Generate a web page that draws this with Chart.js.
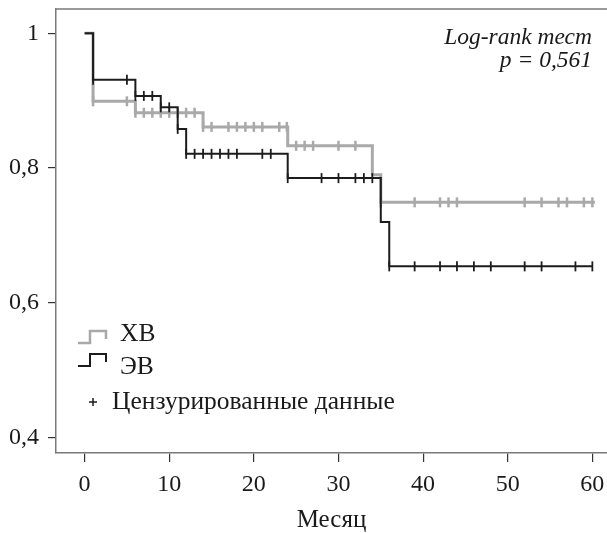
<!DOCTYPE html>
<html>
<head>
<meta charset="utf-8">
<script src="https://cdn.jsdelivr.net/npm/chart.js@4/dist/chart.umd.min.js"></script>
<style>
  html, body { margin: 0; padding: 0; background: #fff; }
  #wrap { width: 607px; height: 533px; }
</style>
</head>
<body>
<div id="wrap"><canvas id="grafico" width="607" height="533"></canvas></div>
<script>
// Dados (leitura da figura)
const xTicks = [0, 10, 20, 30, 40, 50, 60];
const yTicks = [0.4, 0.6, 0.8, 1];

// ЭВ (preto)
const evTempos = [0, 1, 6, 9, 11, 12, 24, 35, 36];
const evSobrev = [1, 0.931, 0.907, 0.890, 0.858, 0.821, 0.785, 0.720, 0.654];
const evFim = 60;
const evCensura = [1, 5, 6, 7, 8, 9, 10, 11, 12, 13, 14, 15, 16, 17, 18, 21, 22, 24, 28, 30, 32, 33, 34, 36, 39, 42, 44, 46, 48, 52, 54, 58, 60];

// ХВ (cinza)
const xvTempos = [0, 1, 6, 14, 24, 34, 35];
const xvSobrev = [1, 0.899, 0.882, 0.861, 0.833, 0.790, 0.749];
const xvFim = 60.3;
const xvCensura = [1, 5, 6, 7, 8, 9, 10, 11, 12, 13, 14, 15, 17, 18, 19, 20, 21, 23, 23.9, 25, 26, 27, 30, 32, 35, 39, 42, 43, 44, 52, 54, 56, 57, 59, 60];

const legendaTextos = ['ХВ', 'ЭВ', 'Цензурированные данные'];
const anotacao = ['Log-rank тест', 'p = 0,561'];

const corPreto = '#1c1c1c';
const corCinza = '#a9a9a9';
const corEixo = '#7a7a7a';
const fonte = '"Liberation Serif", "Times New Roman", Times, serif';

// Funções
function degraus(tempos, sobrev, fim){
    const pts = tempos.map((t,i)=>({x:t, y:sobrev[i]}));
    pts.push({x:fim, y:sobrev[sobrev.length-1]});
    return pts;
}
function valorEm(tempos, sobrev, t){
    let v = sobrev[0];
    tempos.forEach((tt,i)=>{ if(t>=tt) v = sobrev[i]; });
    return v;
}
function marcas(cens, tempos, sobrev){
    return cens.map(t=>({x:t, y:valorEm(tempos, sobrev, t)}));
}

// Plugin: borda superior, legenda e anotação
const extras = {
    id:'extras',
    afterDraw(chart){
        const ctx = chart.ctx;
        const a = chart.chartArea;
        ctx.save();
        // borda superior
        ctx.strokeStyle = corEixo; ctx.lineWidth = 1.5;
        ctx.beginPath(); ctx.moveTo(a.left, a.top); ctx.lineTo(a.right, a.top); ctx.stroke();

        // legenda
        const icone = (y, cor, lw)=>{
            ctx.strokeStyle = cor; ctx.lineWidth = lw; ctx.lineCap = 'butt';
            ctx.beginPath();
            ctx.moveTo(78, y); ctx.lineTo(90, y); ctx.lineTo(90, y-12);
            ctx.lineTo(106, y-12); ctx.lineTo(106, y-4);
            ctx.stroke();
        };
        icone(343, corCinza, 2.5);
        icone(366, corPreto, 2);
        ctx.fillStyle = '#1a1a1a';
        ctx.font = '25.5px ' + fonte;
        ctx.textBaseline = 'middle';
        ctx.textAlign = 'left';
        ctx.fillText(legendaTextos[0], 120, 334);
        ctx.fillText(legendaTextos[1], 120, 367);
        ctx.fillText(legendaTextos[2], 112, 402);
        ctx.strokeStyle = corPreto; ctx.lineWidth = 1.5;
        ctx.beginPath();
        ctx.moveTo(89, 402); ctx.lineTo(97, 402);
        ctx.moveTo(93, 398); ctx.lineTo(93, 406);
        ctx.stroke();

        // anotação
        ctx.font = 'italic 23.5px ' + fonte;
        ctx.textAlign = 'right';
        ctx.fillText(anotacao[0], 592, 38);
        ctx.fillText(anotacao[1], 592, 61);
        ctx.restore();
    }
};

const ctx = document.getElementById('grafico').getContext('2d');
const grafico = new Chart(ctx, {
    type:'scatter',
    data:{
        datasets:[
            { label:'ЭВ цензура', data:marcas(evCensura, evTempos, evSobrev), showLine:false,
              pointStyle:'line', rotation:90, pointRadius:5, pointBorderWidth:1.8,
              borderColor:corPreto, backgroundColor:corPreto },
            { label:'ЭВ', data:degraus(evTempos, evSobrev, evFim), showLine:true, stepped:'before',
              borderColor:corPreto, borderWidth:2, pointRadius:0, fill:false },
            { label:'ХВ цензура', data:marcas(xvCensura, xvTempos, xvSobrev), showLine:false,
              pointStyle:'line', rotation:90, pointRadius:5, pointBorderWidth:2.5,
              borderColor:corCinza, backgroundColor:corCinza },
            { label:'ХВ', data:degraus(xvTempos, xvSobrev, xvFim), showLine:true, stepped:'before',
              borderColor:corCinza, borderWidth:3, pointRadius:0, fill:false }
        ]
    },
    options:{
        responsive:false,
        devicePixelRatio:1,
        animation:false,
        layout:{ autoPadding:false, padding:{ top:9, left:0, right:0, bottom:0 } },
        plugins:{ legend:{ display:false }, tooltip:{ enabled:false } },
        scales:{
            x:{
                type:'linear', min:-3.38, max:61.73,
                afterBuildTicks: s => { s.ticks = xTicks.map(v=>({value:v})); },
                afterFit: s => { s.height = 80; s.paddingLeft = 0; s.paddingRight = 0; },
                border:{ display:true, color:corEixo, width:1.5 },
                grid:{ drawOnChartArea:false, drawTicks:true, tickLength:9, color:'#333', lineWidth:1.2 },
                ticks:{ color:'#1a1a1a', padding:8, maxRotation:0, font:{ family:fonte, size:24 } },
                title:{ display:true, text:'Месяц', color:'#1a1a1a', padding:{ top:0, bottom:0 },
                        font:{ family:fonte, size:25, lineHeight:1.0 } }
            },
            y:{
                type:'linear', min:0.377, max:1.036,
                afterBuildTicks: s => { s.ticks = yTicks.map(v=>({value:v})); },
                afterFit: s => { s.width = 56; s.paddingTop = 0; s.paddingBottom = 0; },
                border:{ display:true, color:corEixo, width:1.5 },
                grid:{ drawOnChartArea:false, drawTicks:true, tickLength:8, color:'#333', lineWidth:1.2 },
                ticks:{ color:'#1a1a1a', padding:9,
                        font:{ family:fonte, size:24 },
                        callback: v => v===1 ? '1' : v.toFixed(1).replace('.', ',') }
            }
        }
    },
    plugins:[extras]
});
</script>
</body>
</html>
